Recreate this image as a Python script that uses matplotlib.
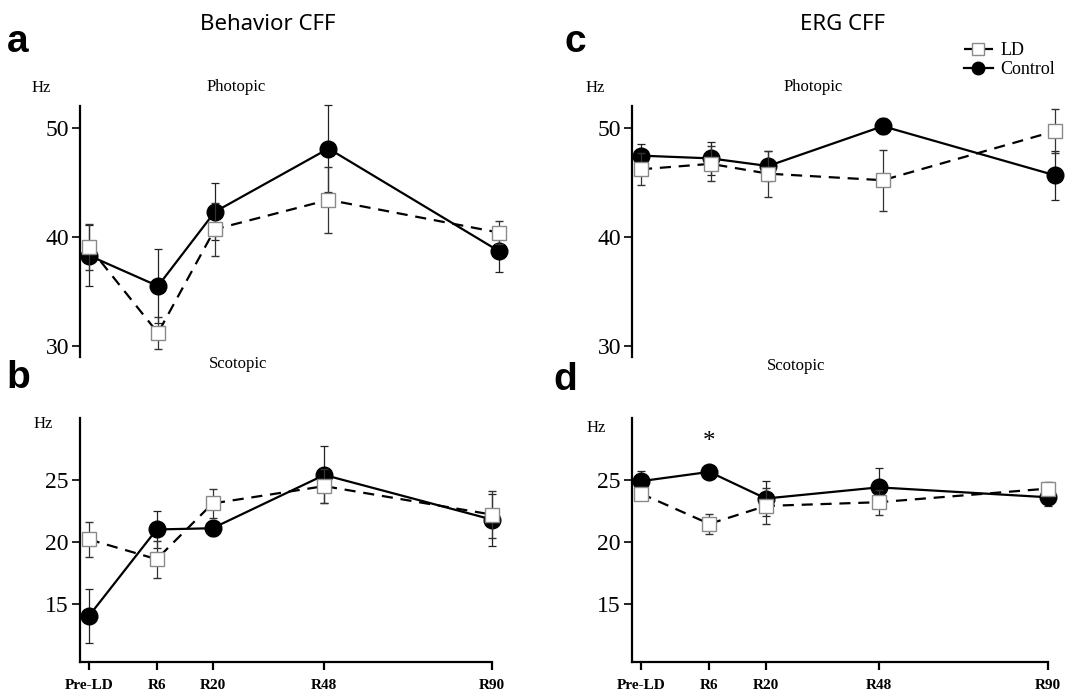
import matplotlib
matplotlib.use("Agg")
import matplotlib.pyplot as plt
from matplotlib.lines import Line2D

# time points (days relative to light damage, Pre-LD placed before day 0)
timepoints = ["Pre-LD", "R6", "R20", "R48", "R90"]
days = [-11, 6, 20, 48, 90]

# behaviour CFF, photopic
beh_pho_ctrl = [38.3, 35.5, 42.3, 48.1, 38.7]
beh_pho_ctrl_err = [2.8, 3.4, 2.6, 4.0, 1.9]
beh_pho_ld = [39.1, 31.2, 40.7, 43.4, 40.4]
beh_pho_ld_err = [2.1, 1.5, 2.4, 3.0, 1.05]

# behaviour CFF, scotopic
beh_sco_ctrl = [14.0, 21.0, 21.1, 25.4, 21.8]
beh_sco_ctrl_err = [2.2, 1.5, 0.6, 2.3, 2.1]
beh_sco_ld = [20.2, 18.6, 23.1, 24.5, 22.2]
beh_sco_ld_err = [1.4, 1.5, 1.2, 1.4, 1.9]

# ERG CFF, photopic
erg_pho_ctrl = [47.45, 47.2, 46.5, 50.15, 45.65]
erg_pho_ctrl_err = [1.05, 1.5, 1.4, 0.75, 2.25]
erg_pho_ld = [46.2, 46.7, 45.8, 45.2, 49.7]
erg_pho_ld_err = [1.45, 1.6, 2.1, 2.8, 2.05]

# ERG CFF, scotopic
erg_sco_ctrl = [24.9, 25.65, 23.5, 24.4, 23.6]
erg_sco_ctrl_err = [0.85, 0.5, 1.45, 1.55, 0.7]
erg_sco_ld = [23.9, 21.45, 22.9, 23.2, 24.3]
erg_sco_ld_err = [0.5, 0.8, 1.45, 1.0, 0.5]

W, H = 1065, 692
fig = plt.figure(figsize=(W / 100, H / 100), dpi=100)
serif = "Liberation Serif"

ctrl_style = dict(color="black", lw=1.6, marker="o", ms=12,
                  mfc="black", mec="black")
ld_style = dict(color="black", lw=1.6, ls="--", dashes=(5, 3.5), marker="s",
                ms=10, mfc="white", mec="#8a8a8a", mew=1.0)


def rect(left, top, right, bottom):
    return [left / W, 1 - bottom / H, (right - left) / W, (bottom - top) / H]


def draw(ax, ctrl, ctrl_err, ld, ld_err, ylim, yticks, xaxis):
    ax.errorbar(days, ctrl, yerr=ctrl_err, ecolor="#222222",
                elinewidth=0.9, capsize=3, capthick=0.9, clip_on=False,
                zorder=3, **ctrl_style)
    ax.errorbar(days, ld, yerr=ld_err, ecolor="#333333", elinewidth=0.9,
                capsize=3, capthick=0.9, clip_on=False, zorder=4, **ld_style)
    ax.set_xlim(-13.2, 90)
    ax.set_ylim(*ylim)
    ax.set_yticks(yticks)
    ax.set_yticklabels([str(t) for t in yticks], fontfamily=serif, fontsize=17)
    for s in ["top", "right"]:
        ax.spines[s].set_visible(False)
    ax.spines["left"].set_linewidth(1.6)
    ax.tick_params(axis="y", length=6, width=1.2, pad=2)
    if xaxis:
        ax.spines["bottom"].set_linewidth(1.6)
        ax.set_xticks(days)
        ax.set_xticklabels(timepoints, fontfamily=serif, fontweight="bold",
                           fontsize=11)
        ax.tick_params(axis="x", length=6, width=1.6, pad=6)
    else:
        ax.spines["bottom"].set_visible(False)
        ax.set_xticks([])
    ax.patch.set_alpha(0)


ax_a = fig.add_axes(rect(80, 106, 499, 357))
draw(ax_a, beh_pho_ctrl, beh_pho_ctrl_err, beh_pho_ld, beh_pho_ld_err,
     (29, 52), [30, 40, 50], False)
ax_b = fig.add_axes(rect(80, 418, 492, 662))
draw(ax_b, beh_sco_ctrl, beh_sco_ctrl_err, beh_sco_ld, beh_sco_ld_err,
     (10.3, 30), [15, 20, 25], True)
ax_c = fig.add_axes(rect(632, 106, 1055, 357))
draw(ax_c, erg_pho_ctrl, erg_pho_ctrl_err, erg_pho_ld, erg_pho_ld_err,
     (29, 52), [30, 40, 50], False)
ax_d = fig.add_axes(rect(632, 418, 1048, 662))
draw(ax_d, erg_sco_ctrl, erg_sco_ctrl_err, erg_sco_ld, erg_sco_ld_err,
     (10.3, 30), [15, 20, 25], True)

# significance mark on ERG scotopic R6
ax_d.text(days[1], erg_sco_ctrl[1] + 1.5, "*", ha="center", va="bottom",
          fontfamily=serif, fontsize=18)


def ftext(x, y, s, **kw):
    fig.text(x / W, 1 - y / H, s, **kw)


# column titles and panel letters
ftext(268, 25, "Behavior CFF", ha="center", va="center",
      fontfamily="Noto Sans", fontsize=16)
ftext(843, 25, "ERG CFF", ha="center", va="center",
      fontfamily="Noto Sans", fontsize=16)
for x, y, s in [(18, 42, "a"), (18, 378, "b"), (575, 42, "c"), (565, 380, "d")]:
    ftext(x, y, s, ha="center", va="center", fontfamily="Liberation Sans",
          fontweight="bold", fontsize=28)

# condition labels and units
for x, y, s in [(236, 87, "Photopic"), (238, 364, "Scotopic"),
                (813, 87, "Photopic"), (796, 366, "Scotopic"),
                (41, 88, "Hz"), (43, 424, "Hz"), (595, 88, "Hz"), (596, 428, "Hz")]:
    ftext(x, y, s, ha="center", va="center", fontfamily=serif, fontsize=12)

ld_handle = Line2D([], [], **dict(ld_style, ls="-", ms=8))
ctrl_handle = Line2D([], [], **dict(ctrl_style, ms=9))
fig.legend([ld_handle, ctrl_handle], ["LD", "Control"], loc="upper left",
           bbox_to_anchor=(955 / W, 1 - 33 / H), frameon=False,
           prop={"family": serif, "size": 13}, handlelength=1.6,
           handletextpad=0.4, labelspacing=0.1, borderpad=0)

fig.savefig("out.png", dpi=100)
